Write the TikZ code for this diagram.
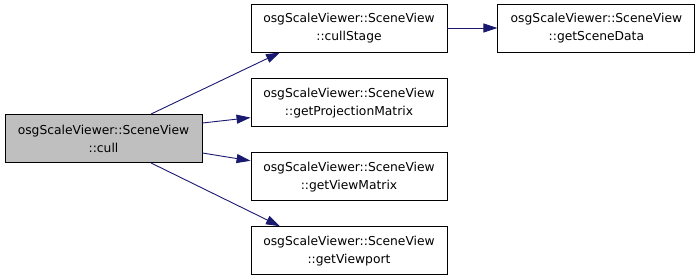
\documentclass[tikz,border=0pt]{standalone}
\usepackage{fontspec}
\setmainfont{DejaVu Sans}
\usetikzlibrary{positioning, arrows.meta}

\definecolor{edgeblue}{HTML}{191970}
\definecolor{curfill}{HTML}{BFBFBF}

\begin{document}
\begin{tikzpicture}[x=1pt, y=1pt, >={Triangle[length=14pt,width=9pt]}, ->]
\tikzstyle{fn}=[draw=black, line width=0.9pt, fill=white, minimum width=196pt, minimum height=48pt, inner sep=0pt, align=center, font=\fontsize{12.3pt}{18pt}\selectfont]
\tikzstyle{call}=[color=edgeblue, line width=0.9pt]
\useasboundingbox (0,0) rectangle (699,279);
\node[fn, fill=curfill, minimum width=197pt] (cull)   at (103.5,140.5) {osgScaleViewer::SceneView\\::cull};
\node[fn]    (cullstage) at (349,251)            {osgScaleViewer::SceneView\\::cullStage};
\node[fn]    (proj)      [below=26pt of cullstage] {osgScaleViewer::SceneView\\::getProjectionMatrix};
\node[fn]    (view)      [below=25pt of proj]      {osgScaleViewer::SceneView\\::getViewMatrix};
\node[fn]    (viewport)  [below=25pt of view]      {osgScaleViewer::SceneView\\::getViewport};
\node[fn, minimum width=197pt] (scenedata) [right=50pt of cullstage] {osgScaleViewer::SceneView\\::getSceneData};
\path[call]
([xshift=47.5pt]cull.north)  edge ([xshift=-69pt]cullstage.south)
([yshift=15.5pt]cull.east)   edge ([yshift=-14.7pt]proj.west)
([yshift=-14.5pt]cull.east)  edge ([yshift=16pt]view.west)
([xshift=47.5pt]cull.south)  edge ([xshift=-69pt]viewport.north)
(cullstage)                  edge (scenedata);
\end{tikzpicture}
\end{document}
